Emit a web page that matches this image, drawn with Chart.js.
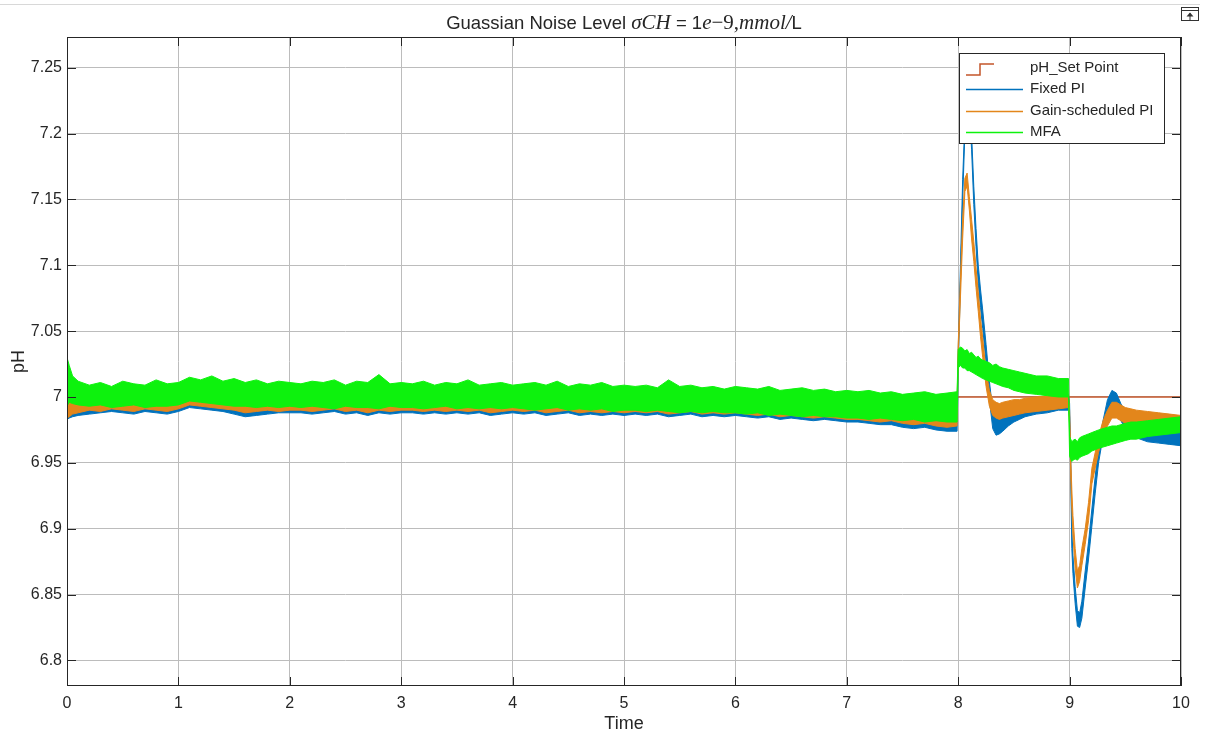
<!DOCTYPE html>
<html>
<head>
<meta charset="utf-8">
<title>Guassian Noise Level</title>
<script src="https://cdn.jsdelivr.net/npm/chart.js@4.4.1/dist/chart.umd.min.js"></script>
<style>
  html, body { margin: 0; padding: 0; background: #fff; }
  #wrap { width: 1216px; height: 737px; }
</style>
</head>
<body>
<div id="wrap"><canvas id="chart-id-noise" width="1216" height="737"></canvas></div>
<script>
// time samples, shared by every trace (finer around the steps at 8 and 9)
var timeGrid = [0, 0.02, 0.05,
  0.1, 0.2, 0.3, 0.4, 0.5, 0.6, 0.7, 0.8, 0.9, 1.0,
  1.1, 1.2, 1.3, 1.4, 1.5, 1.6, 1.7, 1.8, 1.9, 2.0,
  2.1, 2.2, 2.3, 2.4, 2.5, 2.6, 2.7, 2.8, 2.9, 3.0,
  3.1, 3.2, 3.3, 3.4, 3.5, 3.6, 3.7, 3.8, 3.9, 4.0,
  4.1, 4.2, 4.3, 4.4, 4.5, 4.6, 4.7, 4.8, 4.9, 5.0,
  5.1, 5.2, 5.3, 5.4, 5.5, 5.6, 5.7, 5.8, 5.9, 6.0,
  6.1, 6.2, 6.3, 6.4, 6.5, 6.6, 6.7, 6.8, 6.9, 7.0,
  7.1, 7.2, 7.3, 7.4, 7.5, 7.6, 7.7, 7.8, 7.9,
  7.99, 8.0,
  8.02, 8.04, 8.06, 8.08, 8.1, 8.12, 8.14, 8.16, 8.18, 8.2,
  8.22, 8.25, 8.28, 8.31, 8.34, 8.37, 8.4,
  8.45, 8.5, 8.55, 8.6,
  8.7, 8.8, 8.9, 8.99,
  9.0, 9.01, 9.02, 9.03, 9.05, 9.07, 9.09, 9.11, 9.14, 9.17,
  9.2, 9.23, 9.26, 9.3, 9.34, 9.38, 9.42, 9.46, 9.5,
  9.55, 9.6, 9.7, 9.8, 9.9, 10];

// noisy traces are kept as upper / lower edge of the noise band
var fixedHi = [7.003, 7.002, 7.000,
  7.000, 7.002, 7.001, 7.003, 7.002, 7.001, 7.002, 7.003, 7.002, 7.003,
  7.005, 7.005, 7.004, 7.003, 7.003, 7.002, 7.002, 7.002, 7.003, 7.002,
  7.002, 7.003, 7.002, 7.002, 7.001, 7.002, 7.003, 7.002, 7.002, 7.001,
  7.002, 7.001, 7.002, 7.002, 7.001, 7.002, 7.001, 7.002, 7.001, 7.002,
  7.001, 7.002, 7.001, 7.001, 7.000, 7.001, 7.001, 7.000, 7.001, 7.000,
  7.000, 7.001, 7.000, 7.000, 6.999, 7.000, 7.000, 6.999, 7.000, 6.999,
  6.999, 6.998, 6.999, 6.998, 6.998, 6.997, 6.998, 6.997, 6.997, 6.996,
  6.996, 6.997, 6.996, 6.995, 6.996, 6.995, 6.994, 6.995, 6.994,
  6.993, 7.035,
  7.100, 7.165, 7.210, 7.232, 7.228, 7.200, 7.160, 7.128, 7.100, 7.082,
  7.066, 7.040, 7.012, 6.990, 6.985, 6.986, 6.988,
  6.992, 6.994, 6.996, 6.997,
  6.999, 7.000, 7.000, 7.001,
  6.995, 6.955, 6.900, 6.880, 6.856, 6.838, 6.836, 6.845, 6.868, 6.890,
  6.915, 6.940, 6.962, 6.982, 6.998, 7.005, 7.003, 6.995, 6.988,
  6.983, 6.980, 6.977, 6.975, 6.974, 6.973];
var fixedLo = [6.983, 6.984, 6.985,
  6.986, 6.987, 6.988, 6.989, 6.988, 6.987, 6.989, 6.988, 6.987, 6.989,
  6.992, 6.991, 6.990, 6.989, 6.987, 6.985, 6.986, 6.987, 6.988, 6.988,
  6.988, 6.987, 6.988, 6.989, 6.987, 6.988, 6.986, 6.988, 6.987, 6.988,
  6.988, 6.987, 6.988, 6.987, 6.988, 6.987, 6.988, 6.986, 6.987, 6.988,
  6.987, 6.988, 6.986, 6.987, 6.988, 6.986, 6.987, 6.986, 6.987, 6.986,
  6.987, 6.986, 6.987, 6.985, 6.986, 6.987, 6.985, 6.986, 6.985, 6.986,
  6.985, 6.984, 6.985, 6.983, 6.984, 6.983, 6.982, 6.983, 6.982, 6.981,
  6.981, 6.980, 6.979, 6.979, 6.977, 6.976, 6.977, 6.975, 6.974,
  6.974, 7.020,
  7.086, 7.150, 7.200, 7.222, 7.218, 7.188, 7.146, 7.114, 7.086, 7.068,
  7.052, 7.026, 6.998, 6.976, 6.971, 6.972, 6.974,
  6.978, 6.981, 6.983, 6.985,
  6.987, 6.988, 6.990, 6.990,
  6.985, 6.940, 6.885, 6.866, 6.843, 6.826, 6.825, 6.832, 6.855, 6.877,
  6.902, 6.927, 6.950, 6.970, 6.986, 6.992, 6.990, 6.982, 6.976,
  6.971, 6.969, 6.966, 6.965, 6.964, 6.963];

var gainHi = [7.005, 7.004, 7.002,
  7.001, 7.003, 7.002, 7.004, 7.003, 7.002, 7.003, 7.004, 7.003, 7.004,
  7.006, 7.006, 7.005, 7.004, 7.004, 7.003, 7.003, 7.003, 7.004, 7.003,
  7.003, 7.004, 7.003, 7.003, 7.002, 7.003, 7.004, 7.003, 7.003, 7.002,
  7.003, 7.002, 7.003, 7.003, 7.002, 7.003, 7.002, 7.003, 7.002, 7.003,
  7.002, 7.003, 7.002, 7.002, 7.001, 7.002, 7.002, 7.001, 7.002, 7.001,
  7.001, 7.002, 7.001, 7.001, 7.000, 7.001, 7.001, 7.000, 7.001, 7.000,
  7.000, 6.999, 7.000, 6.999, 6.999, 6.998, 6.999, 6.998, 6.998, 6.997,
  6.997, 6.998, 6.997, 6.996, 6.997, 6.996, 6.995, 6.996, 6.995,
  6.995, 7.040,
  7.090, 7.135, 7.166, 7.170, 7.152, 7.135, 7.118, 7.098, 7.080, 7.060,
  7.045, 7.020, 7.005, 6.998, 6.996, 6.995, 6.996,
  6.997, 6.998, 6.998, 6.999,
  7.000, 7.001, 7.001, 7.002,
  6.990, 6.955, 6.930, 6.910, 6.885, 6.868, 6.872, 6.885, 6.900, 6.920,
  6.946, 6.958, 6.970, 6.982, 6.990, 6.996, 6.996, 6.994, 6.992,
  6.991, 6.990, 6.989, 6.988, 6.987, 6.986];
var gainLo = [6.984, 6.985, 6.987,
  6.988, 6.990, 6.989, 6.991, 6.990, 6.989, 6.991, 6.990, 6.989, 6.991,
  6.994, 6.993, 6.992, 6.991, 6.990, 6.988, 6.989, 6.990, 6.989, 6.990,
  6.990, 6.989, 6.990, 6.991, 6.989, 6.990, 6.988, 6.990, 6.989, 6.990,
  6.990, 6.989, 6.990, 6.989, 6.990, 6.989, 6.990, 6.988, 6.989, 6.990,
  6.989, 6.990, 6.988, 6.989, 6.990, 6.988, 6.989, 6.988, 6.989, 6.988,
  6.989, 6.988, 6.989, 6.987, 6.988, 6.989, 6.987, 6.988, 6.987, 6.988,
  6.987, 6.986, 6.987, 6.985, 6.986, 6.985, 6.984, 6.985, 6.984, 6.983,
  6.983, 6.982, 6.981, 6.982, 6.980, 6.979, 6.980, 6.978, 6.977,
  6.978, 7.030,
  7.075, 7.120, 7.156, 7.160, 7.142, 7.120, 7.103, 7.083, 7.065, 7.046,
  7.030, 7.008, 6.993, 6.986, 6.984, 6.983, 6.984,
  6.985, 6.986, 6.987, 6.988,
  6.989, 6.990, 6.991, 6.992,
  6.980, 6.940, 6.915, 6.895, 6.870, 6.855, 6.860, 6.872, 6.888, 6.906,
  6.934, 6.946, 6.958, 6.970, 6.978, 6.984, 6.984, 6.982, 6.980,
  6.979, 6.978, 6.977, 6.976, 6.975, 6.974];

var mfaHi = [7.030, 7.024, 7.016,
  7.012, 7.009, 7.011, 7.008, 7.012, 7.010, 7.009, 7.013, 7.010, 7.011,
  7.015, 7.013, 7.016, 7.012, 7.014, 7.011, 7.013, 7.010, 7.012, 7.011,
  7.010, 7.012, 7.011, 7.013, 7.009, 7.012, 7.011, 7.017, 7.010, 7.011,
  7.010, 7.012, 7.009, 7.011, 7.010, 7.013, 7.009, 7.010, 7.011, 7.009,
  7.010, 7.011, 7.009, 7.012, 7.008, 7.010, 7.009, 7.011, 7.008, 7.009,
  7.008, 7.009, 7.007, 7.013, 7.008, 7.009, 7.007, 7.008, 7.006, 7.008,
  7.007, 7.006, 7.008, 7.005, 7.006, 7.007, 7.005, 7.006, 7.004, 7.005,
  7.004, 7.005, 7.003, 7.004, 7.002, 7.003, 7.004, 7.002, 7.003,
  7.004, 7.036,
  7.038, 7.037, 7.035, 7.036, 7.033, 7.034, 7.032, 7.030, 7.031, 7.029,
  7.028, 7.027, 7.026, 7.024, 7.025, 7.023, 7.022,
  7.021, 7.020, 7.019, 7.018,
  7.016, 7.016, 7.014, 7.014,
  6.970, 6.968, 6.966, 6.967, 6.968, 6.966, 6.969, 6.970, 6.971, 6.972,
  6.973, 6.974, 6.975, 6.976, 6.977, 6.978, 6.978, 6.979, 6.980,
  6.981, 6.981, 6.982, 6.983, 6.984, 6.985];
var mfaLo = [6.993, 6.996, 6.995,
  6.994, 6.993, 6.994, 6.992, 6.993, 6.994, 6.992, 6.993, 6.993, 6.994,
  6.997, 6.996, 6.995, 6.994, 6.993, 6.993, 6.992, 6.993, 6.992, 6.993,
  6.992, 6.993, 6.992, 6.991, 6.993, 6.992, 6.992, 6.991, 6.993, 6.992,
  6.992, 6.991, 6.992, 6.993, 6.991, 6.992, 6.991, 6.992, 6.991, 6.992,
  6.991, 6.990, 6.991, 6.992, 6.990, 6.991, 6.990, 6.991, 6.989, 6.990,
  6.990, 6.989, 6.990, 6.989, 6.988, 6.989, 6.988, 6.989, 6.988, 6.988,
  6.987, 6.988, 6.986, 6.987, 6.986, 6.985, 6.986, 6.985, 6.985, 6.984,
  6.984, 6.983, 6.984, 6.983, 6.982, 6.983, 6.981, 6.982, 6.981,
  6.981, 7.022,
  7.024, 7.022, 7.022, 7.020, 7.020, 7.019, 7.018, 7.017, 7.016, 7.015,
  7.014, 7.013, 7.012, 7.011, 7.010, 7.009, 7.008,
  7.007, 7.005, 7.004, 7.003,
  7.002, 7.001, 7.000, 7.000,
  6.955, 6.953, 6.951, 6.952, 6.953, 6.952, 6.954, 6.955, 6.956, 6.957,
  6.959, 6.960, 6.961, 6.962, 6.963, 6.964, 6.965, 6.966, 6.967,
  6.968, 6.968, 6.970, 6.971, 6.972, 6.973];

// set point (stairs)
var setT = [0, 10];
var setV = [7, 7];

var xTicks = [0, 1, 2, 3, 4, 5, 6, 7, 8, 9, 10];
var yTicks = [6.8, 6.85, 6.9, 6.95, 7, 7.05, 7.1, 7.15, 7.2, 7.25];

var seriesNames = ['pH_Set Point', 'Fixed PI', 'Gain-scheduled PI', 'MFA'];
var seriesColors = ['#C4562A', '#0072BD', '#E3861B', '#0DF20D'];

var titleParts = [
  { text: 'Guassian Noise Level ', font: '18.5px "Liberation Sans", Arial, sans-serif' },
  { text: '\u03C3CH', font: 'italic 21px "Liberation Serif", "Times New Roman", serif' },
  { text: ' = 1', font: '18.5px "Liberation Sans", Arial, sans-serif' },
  { text: 'e', font: 'italic 21px "Liberation Serif", "Times New Roman", serif' },
  { text: '\u22129,', font: '21px "Liberation Serif", "Times New Roman", serif' },
  { text: 'mmol/', font: 'italic 21px "Liberation Serif", "Times New Roman", serif' },
  { text: 'L', font: '18.5px "Liberation Sans", Arial, sans-serif' }
];

var axisColor = '#262626';
var gridColor = '#bcbcbc';
var SANS = '"Liberation Sans", Arial, sans-serif';

function toPoints(xs, ys) {
  return xs.map(function(t, i) { return { x: t, y: ys[i] }; });
}

function bandPair(name, color, lo, hi, order) {
  return [
    { label: name, data: toPoints(timeGrid, lo), borderColor: color, backgroundColor: color,
      borderWidth: 1, pointRadius: 0, fill: false, order: order },
    { label: name, data: toPoints(timeGrid, hi), borderColor: color, backgroundColor: color,
      borderWidth: 1, pointRadius: 0, fill: '-1', order: order }
  ];
}

var datasets = [
  { label: seriesNames[0], data: toPoints(setT, setV), borderColor: seriesColors[0],
    borderWidth: 1.5, pointRadius: 0, stepped: true, fill: false, order: 4 }
].concat(
  bandPair(seriesNames[1], seriesColors[1], fixedLo, fixedHi, 3),
  bandPair(seriesNames[2], seriesColors[2], gainLo, gainHi, 2),
  bandPair(seriesNames[3], seriesColors[3], mfaLo, mfaHi, 1)
);

// axes box with inward ticks, like the matlab figure
var boxPlugin = {
  id: 'boxPlugin',
  afterDatasetsDraw: function(chart) {
    var ctx = chart.ctx, a = chart.chartArea;
    var xs = chart.scales.x, ys = chart.scales.y;
    var len = 9;
    ctx.save();
    ctx.strokeStyle = axisColor;
    ctx.lineWidth = 1;
    ctx.strokeRect(Math.round(a.left) + 0.5, Math.round(a.top) + 0.5,
      Math.round(a.right - a.left) - 1, Math.round(a.bottom - a.top) - 1);
    ctx.beginPath();
    xTicks.forEach(function(v) {
      var px = Math.round(xs.getPixelForValue(v)) + 0.5;
      ctx.moveTo(px, a.bottom); ctx.lineTo(px, a.bottom - len);
      ctx.moveTo(px, a.top); ctx.lineTo(px, a.top + len);
    });
    yTicks.forEach(function(v) {
      var py = Math.round(ys.getPixelForValue(v)) + 0.5;
      ctx.moveTo(a.left, py); ctx.lineTo(a.left + len, py);
      ctx.moveTo(a.right, py); ctx.lineTo(a.right - len, py);
    });
    ctx.stroke();
    ctx.restore();
  }
};

// legend box inside the axes + mixed font title + toolbar bits
var decorPlugin = {
  id: 'decorPlugin',
  afterDraw: function(chart) {
    var ctx = chart.ctx, a = chart.chartArea;
    ctx.save();

    // legend
    var lx = 959, ly = 53, lw = 205, lh = 90;
    ctx.fillStyle = '#fff';
    ctx.fillRect(lx, ly, lw, lh);
    ctx.strokeStyle = axisColor;
    ctx.lineWidth = 1;
    ctx.strokeRect(lx + 0.5, ly + 0.5, lw, lh);
    ctx.font = '15px ' + SANS;
    ctx.textBaseline = 'middle';
    ctx.textAlign = 'left';
    seriesNames.forEach(function(name, i) {
      var y = ly + 15 + i * 21.3;
      ctx.strokeStyle = seriesColors[i];
      ctx.lineWidth = 1.5;
      ctx.beginPath();
      if (i === 0) {
        ctx.moveTo(966, y + 7); ctx.lineTo(980, y + 7);
        ctx.lineTo(980, y - 4); ctx.lineTo(994, y - 4);
      } else {
        ctx.moveTo(966, Math.round(y) + 0.5); ctx.lineTo(1023, Math.round(y) + 0.5);
      }
      ctx.stroke();
      ctx.fillStyle = axisColor;
      ctx.fillText(name, 1030, y);
    });

    // title
    var total = 0;
    titleParts.forEach(function(p) { ctx.font = p.font; total += ctx.measureText(p.text).width; });
    var tx = (a.left + a.right) / 2 - total / 2;
    ctx.fillStyle = axisColor;
    ctx.textBaseline = 'alphabetic';
    titleParts.forEach(function(p) {
      ctx.font = p.font;
      ctx.fillText(p.text, tx, 29);
      tx += ctx.measureText(p.text).width;
    });

    // thin figure border line and the axes toolbar icon
    ctx.strokeStyle = '#d8d8d8';
    ctx.lineWidth = 1;
    ctx.beginPath(); ctx.moveTo(0, 4.5); ctx.lineTo(1200, 4.5); ctx.stroke();
    ctx.strokeStyle = '#333';
    ctx.strokeRect(1181.5, 7.5, 17, 13);
    ctx.beginPath();
    ctx.moveTo(1181.5, 10.5); ctx.lineTo(1198.5, 10.5);
    ctx.moveTo(1190, 13); ctx.lineTo(1190, 20.5);
    ctx.stroke();
    ctx.fillStyle = '#333';
    ctx.beginPath();
    ctx.moveTo(1190, 12.5); ctx.lineTo(1186.5, 16.5); ctx.lineTo(1193.5, 16.5);
    ctx.closePath(); ctx.fill();

    ctx.restore();
  }
};

var ctx = document.getElementById('chart-id-noise').getContext('2d');
var noiseChart = new Chart(ctx, {
  type: 'line',
  data: { datasets: datasets },
  options: {
    responsive: false,
    animation: false,
    layout: { padding: { left: 0, right: 35, top: 37, bottom: 0 } },
    elements: { line: { tension: 0 } },
    plugins: {
      legend: { display: false },
      tooltip: { enabled: false },
      title: { display: false }
    },
    scales: {
      x: {
        type: 'linear', min: 0, max: 10,
        afterBuildTicks: function(s) { s.ticks = xTicks.map(function(v) { return { value: v }; }); },
        afterFit: function(s) { s.height = 51; },
        grid: { color: gridColor, drawTicks: false },
        border: { display: false },
        ticks: { padding: 8, maxRotation: 0, color: axisColor, font: { family: SANS, size: 16 } },
        title: { display: true, text: 'Time', color: axisColor, font: { family: SANS, size: 18 },
                 padding: { top: 0, bottom: 2 } }
      },
      y: {
        type: 'linear', min: 6.7806, max: 7.2733,
        afterBuildTicks: function(s) { s.ticks = yTicks.map(function(v) { return { value: v }; }); },
        afterFit: function(s) { s.width = 67; },
        grid: { color: gridColor, drawTicks: false },
        border: { display: false },
        ticks: { padding: 5, color: axisColor, font: { family: SANS, size: 16 },
                 callback: function(v) { return String(parseFloat(Number(v).toFixed(2))); } },
        title: { display: true, text: 'pH', color: axisColor, font: { family: SANS, size: 18 },
                 padding: { top: 8, bottom: 0 } }
      }
    }
  },
  plugins: [boxPlugin, decorPlugin]
});
</script>
</body>
</html>
